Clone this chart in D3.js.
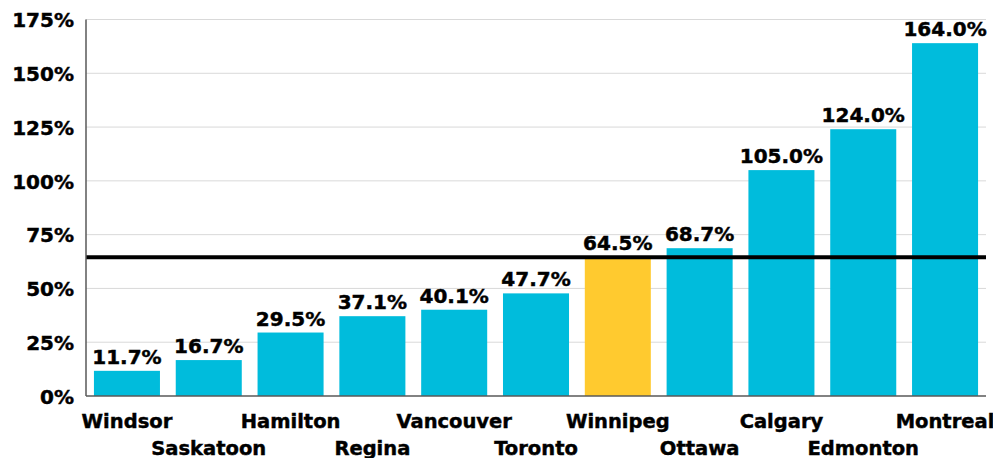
<!DOCTYPE html>
<html>
<head>
<meta charset="utf-8">
<script src="https://cdn.jsdelivr.net/npm/d3@7"></script>
<style>
  html, body { margin: 0; padding: 0; background: #fff; }
  svg text { font-family: "DejaVu Sans", Verdana, sans-serif; font-weight: bold; fill: #000;
             stroke: #000; stroke-width: 0.45px; }
</style>
</head>
<body>
<svg id="chart" width="993" height="458"></svg>
<script>
// City values (percent)
const cities = ["Windsor", "Saskatoon", "Hamilton", "Regina", "Vancouver", "Toronto",
                "Winnipeg", "Ottawa", "Calgary", "Edmonton", "Montreal"];
const values = [11.7, 16.7, 29.5, 37.1, 40.1, 47.7, 64.5, 68.7, 105.0, 124.0, 164.0];
const highlightCity = "Winnipeg";
const referenceValue = 64.5;
const yTicks = [0, 25, 50, 75, 100, 125, 150, 175];

const svg = d3.select("#chart");
const margin = { left: 86, right: 7, top: 19.5, bottom: 62 };
const W = 993, H = 458;

const x = d3.scaleBand()
  .domain(cities)
  .range([margin.left, W - margin.right])
  .paddingInner(0.193)
  .paddingOuter(0.097);

const y = d3.scaleLinear()
  .domain([0, 175])
  .range([H - margin.bottom, margin.top]);

// Horizontal gridlines
svg.append("g")
  .selectAll("line")
  .data(yTicks.filter(d => d > 0))
  .join("line")
  .attr("x1", margin.left).attr("x2", W - margin.right)
  .attr("y1", d => y(d)).attr("y2", d => y(d))
  .attr("stroke", "#d9d9d9").attr("stroke-width", 1);

// Y axis labels
const yAxis = d3.axisLeft(y).tickValues(yTicks).tickFormat(d => d + "%").tickSize(0).tickPadding(12);
const gy = svg.append("g").attr("transform", `translate(${margin.left},0)`).call(yAxis);
gy.select(".domain").remove();
gy.selectAll("text").style("font-size", "20px").attr("dy", "0.36em");

// Bars
const data = cities.map((c, i) => ({ city: c, value: values[i] }));
svg.append("g")
  .selectAll("rect")
  .data(data)
  .join("rect")
  .attr("x", d => x(d.city))
  .attr("width", x.bandwidth())
  .attr("y", d => y(d.value))
  .attr("height", d => y(0) - y(d.value))
  .attr("fill", d => d.city === highlightCity ? "#ffca2f" : "#00bcdc");

// Value labels
svg.append("g")
  .selectAll("text")
  .data(data)
  .join("text")
  .attr("x", d => x(d.city) + x.bandwidth() / 2)
  .attr("y", d => y(d.value) - 7)
  .attr("text-anchor", "middle")
  .style("font-size", "20px")
  .text(d => d.value.toFixed(1) + "%");

// Reference line
svg.append("line")
  .attr("x1", margin.left).attr("x2", W - margin.right)
  .attr("y1", y(referenceValue)).attr("y2", y(referenceValue))
  .attr("stroke", "#000").attr("stroke-width", 4);

// Axis lines
svg.append("line")
  .attr("x1", margin.left).attr("x2", margin.left)
  .attr("y1", margin.top).attr("y2", y(0))
  .attr("stroke", "#595959").attr("stroke-width", 1.5);
svg.append("line")
  .attr("x1", margin.left).attr("x2", W - margin.right)
  .attr("y1", y(0)).attr("y2", y(0))
  .attr("stroke", "#595959").attr("stroke-width", 1.5);

// Category labels, staggered on two rows
svg.append("g")
  .selectAll("text")
  .data(cities)
  .join("text")
  .attr("x", d => x(d) + x.bandwidth() / 2)
  .attr("y", (d, i) => i % 2 === 0 ? 428 : 455)
  .attr("text-anchor", "middle")
  .style("font-size", "19.5px")
  .text(d => d);
</script>
</body>
</html>
